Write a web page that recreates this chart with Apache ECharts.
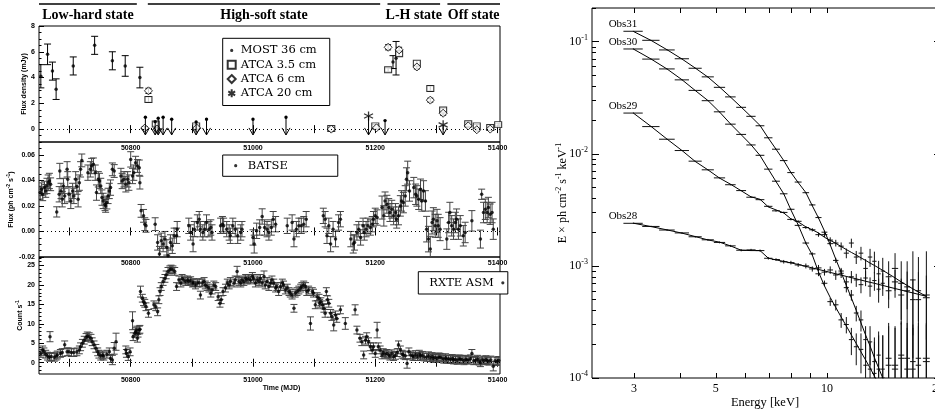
<!DOCTYPE html>
<html>
<head>
<meta charset="utf-8">
<title>Light curves and spectra</title>
<script src="https://cdn.jsdelivr.net/npm/echarts@6.0.0/dist/echarts.min.js"></script>
<style>
  html, body { margin: 0; padding: 0; background: #fff; }
  #chart { width: 935px; height: 411px; }
</style>
</head>
<body>
<div id="chart"></div>
<script>
// ---------- time axis (MJD) ----------
const mjdMin = 50650;
const mjdMax = 51404;
const mjdTicks = [50700, 50800, 50900, 51000, 51100, 51200, 51300, 51400];
const mjdLabels = [50800, 51000, 51200, 51400];

// states marked above the top panel
const stateNames = ['Low-hard state', 'High-soft state', 'L-H state', 'Off state'];
const stateStart = [50650, 50828, 51220, 51318];
const stateEnd = [50810, 51208, 51306, 51404];

// ---------- radio panel: [MJD, mJy, error] ----------
const radioTicks = [0, 2, 4, 6, 8];
const mostObs = [
  [50653, 4.1, 0.9], [50664, 5.8, 0.8], [50672, 4.5, 0.7], [50678, 3.1, 0.8], [50706, 4.9, 0.7],
  [50741, 6.5, 0.7], [50770, 5.3, 0.7], [50791, 4.9, 0.8], [50815, 4.0, 0.8], [51229, 5.2, 0.5],
  [51234, 5.5, 1.3]
];
const mostLimits = [
  [50824, 0.92], [50840, 0.58], [50845, 0.85], [50853, 0.92], [50867, 0.77],
  [50907, 0.55], [50924, 0.77], [51000, 0.77], [51054, 0.92], [51216, 0.66]
];
const atca35Obs = [
  [50829, 2.3, 0.2], [50841, 0.4, 0.15], [50907, 0.25, 0.12], [51128, 0.05, 0.12], [51200, 0.25, 0.12],
  [51221, 4.6, 0.15], [51239, 5.85, 0.2], [51268, 5.12, 0.2], [51290, 3.15, 0.2], [51311, 1.48, 0.15],
  [51352, 0.41, 0.12], [51366, 0.25, 0.12], [51388, 0.12, 0.12], [51401, 0.35, 0.12]
];
const atca6Obs = [
  [50823, 0.08, 0.12], [50829, 2.97, 0.2], [50843, 0.0, 0.12], [50908, 0.08, 0.12], [51128, 0.0, 0.12],
  [51202, 0.1, 0.12], [51221, 6.35, 0.2], [51239, 6.15, 0.2], [51268, 4.82, 0.15], [51290, 2.25, 0.15],
  [51311, 1.23, 0.15], [51352, 0.25, 0.1], [51366, -0.05, 0.1], [51388, 0.0, 0.1]
];
const atca20Limits = [[51189, 1.02], [51311, 0.33]];
const limitFloor = -0.45;

// ---------- BATSE panel: [MJD, ph cm^-2 s^-1, error] ----------
const batseTicks = [-0.02, 0, 0.02, 0.04, 0.06];
const batseObs = [
  [50652, 0.0304, 0.005], [50654, 0.0330, 0.005], [50656, 0.0291, 0.005], [50659, 0.0343, 0.005], [50661, 0.0317, 0.005],
  [50663, 0.0356, 0.006], [50665, 0.0382, 0.006], [50667, 0.0395, 0.006], [50669, 0.0369, 0.005], [50679, 0.0153, 0.004],
  [50683, 0.0291, 0.006], [50684, 0.0473, 0.006], [50686, 0.0317, 0.006], [50688, 0.0252, 0.006], [50690, 0.0356, 0.006],
  [50692, 0.0278, 0.006], [50696, 0.0486, 0.006], [50697, 0.0408, 0.006], [50699, 0.0291, 0.006], [50702, 0.0239, 0.006],
  [50705, 0.0317, 0.006], [50707, 0.0278, 0.006], [50710, 0.0408, 0.006], [50712, 0.0351, 0.006], [50714, 0.0252, 0.006],
  [50716, 0.0382, 0.006], [50718, 0.0486, 0.006], [50720, 0.0556, 0.005], [50730, 0.0460, 0.006], [50734, 0.0486, 0.006],
  [50736, 0.0512, 0.006], [50739, 0.0525, 0.005], [50742, 0.0460, 0.006], [50744, 0.0304, 0.006], [50747, 0.0408, 0.006],
  [50749, 0.0395, 0.006], [50751, 0.0356, 0.006], [50753, 0.0265, 0.006], [50755, 0.0239, 0.006], [50758, 0.0213, 0.005],
  [50759, 0.0200, 0.005], [50761, 0.0226, 0.005], [50763, 0.0278, 0.006], [50765, 0.0317, 0.006], [50767, 0.0343, 0.006],
  [50770, 0.0486, 0.005], [50773, 0.0473, 0.005], [50784, 0.0434, 0.006], [50786, 0.0395, 0.006], [50789, 0.0408, 0.006],
  [50792, 0.0369, 0.006], [50795, 0.0408, 0.006], [50797, 0.0382, 0.006], [50800, 0.0564, 0.006], [50803, 0.0434, 0.006],
  [50805, 0.0460, 0.006], [50808, 0.0538, 0.005], [50811, 0.0512, 0.005], [50814, 0.0499, 0.006], [50815, 0.0382, 0.005],
  [50817, 0.0161, 0.005], [50821, 0.0122, 0.005], [50823, 0.0057, 0.005], [50825, 0.0044, 0.005], [50840, 0.0057, 0.005],
  [50844, -0.0086, 0.006], [50847, -0.0177, 0.006], [50850, -0.0073, 0.006], [50853, -0.0099, 0.006], [50856, -0.0060, 0.006],
  [50859, -0.0125, 0.006], [50861, -0.0190, 0.006], [50865, -0.0086, 0.006], [50868, -0.0112, 0.006], [50871, -0.0034, 0.006],
  [50875, -0.0034, 0.006], [50876, 0.0018, 0.006], [50895, 0.0044, 0.006], [50898, -0.0008, 0.006], [50902, -0.0099, 0.006],
  [50904, 0.0018, 0.006], [50909, 0.0070, 0.006], [50912, 0.0096, 0.006], [50914, 0.0018, 0.006], [50918, -0.0008, 0.006],
  [50921, 0.0018, 0.006], [50924, 0.0070, 0.006], [50928, 0.0018, 0.006], [50931, 0.0031, 0.006], [50933, -0.0008, 0.006],
  [50947, 0.0044, 0.006], [50950, 0.0057, 0.006], [50952, 0.0044, 0.006], [50957, 0.0018, 0.006], [50961, -0.0008, 0.006],
  [50963, -0.0034, 0.006], [50967, 0.0044, 0.006], [50971, 0.0018, 0.006], [50975, -0.0034, 0.006], [50980, -0.0008, 0.006],
  [50982, 0.0018, 0.006], [51000, -0.0047, 0.006], [51002, -0.0099, 0.007], [51006, 0.0005, 0.006], [51011, 0.0031, 0.006],
  [51015, 0.0117, 0.006], [51019, 0.0031, 0.006], [51023, 0.0018, 0.006], [51026, -0.0008, 0.006], [51030, 0.0031, 0.006],
  [51033, 0.0096, 0.006], [51037, 0.0057, 0.006], [51056, 0.0044, 0.006], [51064, 0.0070, 0.006], [51067, -0.0060, 0.006],
  [51071, 0.0018, 0.006], [51075, 0.0044, 0.006], [51079, 0.0044, 0.006], [51083, 0.0057, 0.006], [51087, 0.0096, 0.006],
  [51115, 0.0122, 0.006], [51118, 0.0096, 0.006], [51121, -0.0034, 0.006], [51124, 0.0044, 0.006], [51127, -0.0099, 0.006],
  [51131, 0.0018, 0.006], [51135, -0.0060, 0.006], [51140, 0.0070, 0.006], [51143, 0.0096, 0.006], [51160, -0.0060, 0.006],
  [51164, -0.0099, 0.007], [51166, -0.0086, 0.006], [51170, -0.0008, 0.006], [51173, 0.0018, 0.006], [51176, -0.0047, 0.006],
  [51180, 0.0044, 0.006], [51182, -0.0008, 0.006], [51185, 0.0018, 0.006], [51188, 0.0044, 0.006], [51192, 0.0031, 0.006],
  [51195, 0.0057, 0.006], [51197, 0.0096, 0.006], [51200, 0.0122, 0.006], [51203, 0.0109, 0.006], [51211, 0.0187, 0.009],
  [51214, 0.0122, 0.008], [51216, 0.0239, 0.007], [51219, 0.0213, 0.007], [51222, 0.0187, 0.007], [51224, 0.0148, 0.007],
  [51227, 0.0174, 0.007], [51230, 0.0122, 0.007], [51233, 0.0148, 0.007], [51235, 0.0096, 0.007], [51238, 0.0122, 0.007],
  [51241, 0.0200, 0.008], [51243, 0.0239, 0.008], [51246, 0.0226, 0.008], [51249, 0.0278, 0.008], [51251, 0.0408, 0.009],
  [51253, 0.0460, 0.009], [51256, 0.0317, 0.008], [51263, 0.0343, 0.008], [51266, 0.0291, 0.008], [51268, 0.0278, 0.008],
  [51271, 0.0252, 0.008], [51274, 0.0330, 0.008], [51276, 0.0239, 0.008], [51279, 0.0317, 0.008], [51282, 0.0239, 0.008],
  [51284, 0.0018, 0.010], [51287, -0.0060, 0.010], [51290, -0.0138, 0.010], [51293, 0.0070, 0.009], [51295, 0.0096, 0.009],
  [51298, 0.0044, 0.009], [51301, 0.0083, 0.009], [51303, 0.0044, 0.009], [51306, 0.0018, 0.009], [51317, -0.0060, 0.008],
  [51320, 0.0070, 0.008], [51322, 0.0148, 0.008], [51325, 0.0044, 0.008], [51328, 0.0018, 0.008], [51331, 0.0070, 0.008],
  [51333, 0.0096, 0.008], [51336, 0.0018, 0.008], [51339, 0.0044, 0.008], [51344, -0.0034, 0.008], [51347, -0.0008, 0.008],
  [51358, 0.0083, 0.008], [51372, -0.0060, 0.007], [51374, 0.0291, 0.004], [51377, 0.0148, 0.008], [51380, 0.0174, 0.008],
  [51383, 0.0148, 0.008], [51385, 0.0187, 0.008], [51388, 0.0135, 0.008], [51391, 0.0148, 0.008], [51393, 0.0018, 0.008]
];

// ---------- RXTE ASM panel: [MJD, counts s^-1, error] ----------
const asmTicks = [0, 5, 10, 15, 20, 25];
const asmObs = [
  [50653, 2.4, 1.0], [50656, 3.3, 1.0], [50658, 2.8, 1.0], [50661, 2.2, 1.0], [50664, 1.7, 1.0],
  [50667, 1.4, 1.0], [50668, 6.7, 1.3], [50670, 1.6, 1.0], [50675, 1.4, 1.0], [50678, 1.7, 1.0],
  [50680, 2.0, 1.0], [50685, 2.4, 1.0], [50688, 2.6, 1.0], [50692, 4.6, 1.0], [50696, 2.8, 1.0],
  [50699, 2.8, 1.0], [50703, 2.6, 1.0], [50707, 2.6, 1.0], [50712, 2.8, 1.0], [50716, 3.3, 1.0],
  [50718, 4.1, 1.0], [50721, 5.0, 1.0], [50724, 5.8, 1.0], [50727, 6.5, 1.0], [50729, 6.9, 1.0],
  [50732, 6.7, 1.0], [50735, 6.3, 1.0], [50737, 5.4, 1.0], [50740, 4.6, 1.0], [50743, 3.7, 1.0],
  [50746, 2.8, 1.0], [50748, 2.2, 1.0], [50751, 1.7, 1.0], [50754, 2.0, 1.0], [50756, 1.7, 1.0],
  [50761, 2.2, 1.0], [50765, 2.8, 1.0], [50767, 1.1, 1.0], [50770, 0.7, 1.2], [50773, 3.7, 1.5],
  [50776, 5.4, 2.2], [50792, 3.3, 1.0], [50793, 2.4, 1.0], [50796, 1.6, 1.0], [50799, 2.8, 1.0],
  [50803, 10.8, 2.3], [50804, 6.7, 1.0], [50807, 7.6, 1.0], [50808, 8.0, 1.0], [50810, 8.4, 1.0],
  [50811, 6.3, 1.0], [50812, 7.6, 1.0], [50814, 8.4, 1.0], [50815, 8.6, 1.0], [50816, 18.3, 1.4],
  [50819, 16.6, 1.0], [50821, 15.7, 1.0], [50823, 15.3, 1.0], [50825, 14.4, 1.0], [50829, 12.7, 1.0],
  [50838, 14.9, 1.0], [50841, 14.4, 1.0], [50844, 13.1, 1.0], [50846, 16.2, 1.0], [50848, 18.3, 1.0],
  [50850, 19.6, 1.0], [50853, 20.9, 1.0], [50856, 21.7, 1.0], [50858, 22.6, 1.0], [50861, 23.5, 1.0],
  [50864, 23.9, 1.0], [50866, 24.1, 1.0], [50869, 23.9, 1.0], [50872, 23.5, 1.0], [50875, 19.6, 1.0],
  [50879, 21.3, 1.0], [50882, 20.5, 1.0], [50884, 21.7, 1.0], [50887, 21.3, 1.0], [50890, 20.9, 1.0],
  [50893, 21.3, 1.0], [50895, 20.9, 1.0], [50898, 21.1, 1.0], [50901, 20.5, 1.0], [50903, 20.6, 1.0],
  [50906, 20.0, 1.0], [50909, 20.5, 1.0], [50912, 20.6, 1.0], [50914, 17.4, 1.0], [50917, 20.5, 1.0],
  [50920, 20.9, 1.0], [50922, 20.0, 1.0], [50925, 19.6, 1.0], [50928, 19.2, 1.0], [50931, 17.9, 1.0],
  [50933, 18.7, 1.0], [50936, 20.0, 1.0], [50939, 19.6, 1.0], [50943, 17.0, 1.0], [50946, 15.3, 1.0],
  [50948, 16.2, 1.0], [50951, 18.3, 1.0], [50955, 19.2, 1.0], [50958, 20.5, 1.0], [50961, 20.0, 1.0],
  [50963, 20.9, 1.0], [50969, 20.5, 1.0], [50971, 21.3, 1.0], [50974, 23.5, 1.3], [50977, 20.9, 1.0],
  [50980, 20.5, 1.0], [50982, 21.3, 1.0], [50985, 20.9, 1.0], [50988, 21.7, 1.0], [50990, 21.3, 1.0],
  [50993, 21.7, 1.0], [50996, 21.3, 1.0], [50999, 22.2, 1.0], [51001, 21.7, 1.0], [51004, 20.5, 1.0],
  [51007, 21.3, 1.0], [51010, 20.9, 1.0], [51012, 21.7, 1.0], [51015, 20.5, 1.0], [51018, 22.2, 1.4],
  [51020, 20.0, 1.0], [51023, 20.9, 1.0], [51026, 19.6, 1.0], [51029, 20.5, 1.0], [51031, 21.3, 1.0],
  [51034, 20.5, 1.0], [51037, 19.2, 1.0], [51039, 19.6, 1.0], [51042, 18.3, 1.0], [51045, 19.6, 1.0],
  [51048, 20.5, 1.0], [51050, 20.0, 1.0], [51053, 18.7, 1.0], [51056, 19.2, 1.0], [51059, 18.3, 1.0],
  [51061, 17.9, 1.0], [51064, 17.4, 1.0], [51067, 14.0, 1.0], [51069, 17.9, 1.0], [51072, 18.3, 1.0],
  [51075, 18.7, 1.0], [51078, 19.2, 1.0], [51080, 19.6, 1.0], [51083, 20.0, 1.0], [51086, 19.6, 1.0],
  [51088, 18.3, 1.0], [51091, 18.7, 1.0], [51094, 10.1, 1.7], [51097, 18.3, 1.0], [51099, 17.9, 1.0],
  [51102, 14.9, 1.0], [51105, 17.0, 1.0], [51108, 16.6, 1.0], [51109, 15.3, 1.0], [51111, 15.7, 1.0],
  [51114, 14.9, 1.0], [51116, 14.0, 1.0], [51118, 12.7, 1.0], [51120, 18.3, 1.0], [51122, 16.2, 1.0],
  [51124, 15.3, 1.0], [51127, 12.7, 1.0], [51129, 11.9, 1.0], [51132, 9.7, 1.5], [51135, 12.3, 1.0],
  [51137, 11.4, 1.0], [51143, 13.6, 1.0], [51151, 10.1, 1.5], [51167, 13.6, 1.3], [51170, 8.4, 1.0],
  [51175, 6.3, 1.0], [51178, 5.4, 1.0], [51181, 2.0, 1.0], [51184, 5.8, 1.0], [51186, 6.7, 1.0],
  [51189, 5.4, 1.0], [51192, 4.1, 1.0], [51195, 3.3, 1.0], [51197, 4.1, 1.0], [51200, 2.4, 1.0],
  [51203, 8.4, 2.0], [51205, 4.1, 1.0], [51208, 3.3, 1.0], [51211, 2.0, 1.0], [51213, 2.6, 1.0],
  [51216, 2.2, 1.0], [51219, 2.4, 1.0], [51222, 2.0, 1.0], [51224, 1.7, 1.0], [51227, 2.3, 1.0],
  [51230, 1.6, 1.0], [51233, 1.9, 1.0], [51236, 2.6, 1.0], [51238, 4.6, 1.0], [51241, 3.3, 1.0],
  [51244, 2.2, 1.0], [51246, 2.0, 1.0], [51249, 1.8, 1.0], [51252, -0.2, 1.2], [51255, 2.8, 1.0],
  [51258, 2.0, 1.0], [51261, 1.7, 1.0], [51263, 1.6, 1.0], [51266, 2.1, 1.0], [51269, 1.6, 1.0],
  [51272, 2.2, 1.0], [51274, 1.7, 1.0], [51277, 1.9, 1.0], [51280, 1.5, 1.0], [51284, 1.4, 1.0],
  [51287, 1.8, 1.0], [51290, 1.3, 1.0], [51293, 1.6, 1.0], [51295, 1.1, 1.0], [51298, 1.4, 1.0],
  [51301, 1.1, 1.0], [51304, 1.5, 1.0], [51306, 1.4, 1.0], [51309, 1.2, 1.0], [51312, 0.9, 1.0],
  [51315, 1.3, 1.0], [51317, 0.9, 1.0], [51320, 1.0, 1.0], [51323, 0.8, 1.0], [51326, 1.1, 1.0],
  [51328, 0.7, 1.0], [51331, 0.9, 1.0], [51334, 0.6, 1.0], [51337, 1.0, 1.0], [51339, 0.9, 1.0],
  [51342, 0.8, 1.0], [51345, 0.5, 1.0], [51348, 0.9, 1.0], [51350, 0.7, 1.0], [51353, 0.7, 1.0],
  [51356, 1.0, 1.0], [51358, 2.4, 1.0], [51361, 0.5, 1.0], [51364, 0.6, 1.0], [51367, 0.9, 1.0],
  [51370, 0.4, 1.0], [51372, 0.0, 1.0], [51375, 0.7, 1.0], [51378, 0.5, 1.0], [51381, 0.8, 1.0],
  [51383, 0.5, 1.0], [51386, 0.4, 1.0], [51389, 0.7, 1.0], [51393, -0.9, 1.2], [51396, 0.5, 1.0],
  [51399, 0.3, 1.0], [51402, 0.6, 1.0]
];

// ---------- spectra (keV, E x ph cm^-2 s^-1 keV^-1) ----------
const specEnergy = [2.99, 3.34, 3.69, 4.05, 4.40, 4.76, 5.12, 5.48, 5.86, 6.23, 6.59, 6.94, 7.28, 7.64, 7.99, 8.36, 8.77,
  9.13, 9.49, 9.85, 10.21, 10.57, 10.93, 11.29, 11.65, 12.01, 12.37, 12.73, 13.09, 13.45, 13.81, 14.17,
  14.70, 15.30, 15.90, 16.50, 17.10, 17.70, 18.60];
const specHalfWidth = [0.18, 0.18, 0.18, 0.18, 0.18, 0.18, 0.18, 0.18, 0.18, 0.18, 0.18, 0.18, 0.18, 0.18, 0.18, 0.18, 0.18,
  0.18, 0.18, 0.18, 0.18, 0.18, 0.18, 0.18, 0.18, 0.18, 0.18, 0.18, 0.18, 0.18, 0.18, 0.18,
  0.27, 0.30, 0.30, 0.30, 0.30, 0.30, 0.40];

const obs28Flux = [0.00240, 0.00225, 0.00209, 0.00197, 0.00182, 0.00171, 0.00162, 0.00151, 0.00138, 0.00139, 0.00137, 0.00117, 0.00114,
  0.00109, 0.00107, 0.00102, 0.00100, 0.00094, 0.00096, 0.00088, 0.00092, 0.00083, 0.00086, 0.00072, 0.00080, 0.00075,
  0.00068, 0.00078, 0.00066, 0.00074, 0.00062, 0.00070, 0.00060, 0.00072, 0.00055, 0.00065, 0.00050, 0.00060, 0.00052];
const obs28Err = [0.00003, 0.00003, 0.00003, 0.00003, 0.00003, 0.00003, 0.00003, 0.00003, 0.00003, 0.00003, 0.00003, 0.00003, 0.00003,
  0.00004, 0.00004, 0.00004, 0.00005, 0.00005, 0.00006, 0.00006, 0.00007, 0.00008, 0.00008, 0.00009, 0.0001, 0.0001,
  0.00011, 0.00012, 0.00013, 0.00014, 0.00015, 0.00016, 0.00018, 0.0002, 0.00022, 0.00024, 0.00026, 0.00028, 0.0003];
const obs28Model = [0.002405, 0.002244, 0.002095, 0.00196, 0.001827, 0.001706, 0.001629, 0.001509, 0.00138, 0.00137, 0.00137, 0.001172,
  0.001132, 0.001097, 0.001064, 0.001031, 0.00099, 0.00096, 0.00093, 0.000903, 0.000875, 0.00085, 0.000828, 0.000806, 0.000786,
  0.000767, 0.000748, 0.00073, 0.000714, 0.0007, 0.000684, 0.00067, 0.000649, 0.000628, 0.000609, 0.00059, 0.000574, 0.000558, 0.000535];

const obs29Flux = [0.0231, 0.0175, 0.0135, 0.0107, 0.0086, 0.0072, 0.0061, 0.0053, 0.0047, 0.0041, 0.0039, 0.0034, 0.0031,
  0.0030, 0.0026, 0.0025, 0.0022, 0.0021, 0.0019, 0.0019, 0.0017, 0.0016, 0.0015, 0.0013, 0.0016, 0.0012,
  0.0013, 0.00095, 0.0012, 0.0011, 0.00085, 0.0009, 0.0008, 0.00095, 0.0007, 0.0006, 0.00075, 0.0005, 0.00055];
const obs29Err = [0.0002, 0.00015, 0.00012, 0.0001, 0.00008, 0.00007, 0.00006, 0.00006, 0.00005, 0.00005, 0.00005, 0.00005, 0.00005,
  0.00005, 0.00005, 0.00005, 0.00006, 0.00007, 0.00008, 0.00009, 0.0001, 0.00011, 0.00012, 0.00013, 0.00015, 0.00016,
  0.00018, 0.0002, 0.00022, 0.00024, 0.00026, 0.00028, 0.0003, 0.00035, 0.0004, 0.0005, 0.0006, 0.0007, 0.0008];
const obs29Model = [0.0231, 0.01754, 0.01352, 0.0107, 0.00854, 0.0072, 0.00607, 0.00536, 0.00468, 0.00413, 0.00393, 0.00336, 0.00316,
  0.00297, 0.00263, 0.00247, 0.00223, 0.0021, 0.00197, 0.0018, 0.00169, 0.00159, 0.00149, 0.0014, 0.00132, 0.00125,
  0.00118, 0.00112, 0.00106, 0.00101, 0.00096, 0.000912, 0.000849, 0.000782, 0.00072, 0.00067, 0.000624, 0.000586, 0.000535];

const obs30Flux = [0.0862, 0.0700, 0.0572, 0.0457, 0.0368, 0.0298, 0.0237, 0.0184, 0.0149, 0.0120, 0.0097, 0.0073, 0.0057,
  0.0044, 0.0032, 0.0023, 0.0016, 0.00128, 0.00085, 0.00070, 0.00048, 0.00045, 0.00033, 0.00030, 0.00022, 0.00019,
  0.00018, 0.00013, 0.00012, 0.00011, 0.00012, 0.00010, 0.00013, 0.00012, 0.00015, 0.00012, 0.00014, 0.00013, 0.00015];
const obs30Err = [0.0008, 0.0006, 0.0005, 0.0004, 0.0003, 0.00025, 0.0002, 0.00015, 0.00012, 0.0001, 0.00008, 0.00007, 0.00006,
  0.00005, 0.00004, 0.00004, 0.00004, 0.00004, 0.00004, 0.00004, 0.00004, 0.00005, 0.00005, 0.00005, 0.00006, 0.00006,
  0.00007, 0.00008, 0.00009, 0.0001, 0.00012, 0.00014, 0.00016, 0.00016, 0.00016, 0.00016, 0.00016, 0.00016, 0.00016];
const obs30Model = [0.0861, 0.0701, 0.0571, 0.0458, 0.0367, 0.0299, 0.0236, 0.0185, 0.0148, 0.01205, 0.00966, 0.0073, 0.00566,
  0.0044, 0.00316, 0.00232, 0.0016, 0.00125, 0.000884, 0.000663, 0.000523, 0.000426, 0.00035, 0.000291, 0.000242,
  0.000203, 0.000171, 0.000145, 0.000123, 0.000104, 0.000088];

const obs31Flux = [0.124, 0.103, 0.0845, 0.0705, 0.058, 0.0486, 0.0392, 0.0322, 0.026, 0.0216, 0.0178, 0.0139, 0.0110,
  0.0087, 0.0068, 0.0056, 0.0045, 0.0035, 0.0027, 0.0020, 0.00158, 0.00112, 0.00090, 0.00064, 0.00055, 0.00038,
  0.00033, 0.00022, 0.00021, 0.00014, 0.00016, 0.00012, 0.00015, 0.00013, 0.00016, 0.00015, 0.00012, 0.00015, 0.00014];
const obs31Err = [0.001, 0.0008, 0.0007, 0.0006, 0.0005, 0.0004, 0.0003, 0.0003, 0.0002, 0.0002, 0.00015, 0.00012, 0.0001,
  0.00008, 0.00007, 0.00006, 0.00006, 0.00006, 0.00006, 0.00006, 0.00006, 0.00006, 0.00006, 0.00006, 0.00006, 0.00006,
  0.00007, 0.00007, 0.00008, 0.00009, 0.0001, 0.00012, 0.00016, 0.00016, 0.00016, 0.00016, 0.00016, 0.00016, 0.00016];
const obs31Model = [0.1236, 0.1027, 0.0848, 0.0701, 0.0582, 0.0484, 0.0394, 0.0321, 0.0261, 0.0215, 0.0179, 0.0138, 0.0110,
  0.00871, 0.00681, 0.00554, 0.00451, 0.00344, 0.00268, 0.00205, 0.00154, 0.00115, 0.000875, 0.00067, 0.000518,
  0.000401, 0.00031, 0.000242, 0.000193, 0.000152, 0.000123, 0.0001, 0.000072];

const energyMin = 2.31;
const energyMax = 20;
const energyLabels = [3, 5, 10, 20];
const energyTicks = [3, 4, 5, 6, 7, 8, 9, 10, 20];
const fluxMin = 1e-4;
const fluxMax = 0.2;
const fluxDecades = [1e-4, 1e-3, 1e-2, 1e-1];

// ---------- helpers ----------
const serif = "'Liberation Serif', 'Times New Roman', serif";
const legendFont = "'DejaVu Serif', serif";
const tickFont = "'Liberation Sans', Arial, sans-serif";
const lg = Math.log10;

function steps(a, b, s) {
  const out = [];
  for (let v = a; v <= b + 1e-9; v += s) out.push(Math.round(v * 10000) / 10000);
  return out;
}

const fluxMinor = [];
fluxDecades.forEach(d => {
  for (let k = 2; k <= 9; k++) if (k * d <= fluxMax) fluxMinor.push(lg(k * d));
});

// small dot icons: the tiny corner segments keep the icon box larger than the dot
const dotIcon8 = 'path://M0,0L0.01,0L0,0.01ZM8,8L7.99,8L8,7.99ZM2.4,4a1.6,1.6 0 1,0 3.2,0a1.6,1.6 0 1,0 -3.2,0Z';
const dotIcon14 = 'path://M0,0L0.01,0L0,0.01ZM14,8L13.99,8L14,7.99ZM5.4,4a1.6,1.6 0 1,0 3.2,0a1.6,1.6 0 1,0 -3.2,0Z';
const starPath = 'path://M5,0L5,10M0.7,2.5L9.3,7.5M0.7,7.5L9.3,2.5';

const tickLine = { color: '#000', width: 1 };
const tickLabel = { color: '#000', fontFamily: tickFont, fontWeight: 'bold', fontSize: 7 };

function mjdAxis(gridIndex, position, labels, extra) {
  return Object.assign({
    type: 'value', gridIndex, position, min: mjdMin, max: mjdMax,
    axisLine: { show: false }, splitLine: { show: false },
    axisTick: { show: true, inside: true, length: 4, customValues: mjdTicks, lineStyle: tickLine },
    axisLabel: labels
      ? Object.assign({ show: true, customValues: mjdLabels, margin: 3, formatter: v => String(Math.round(v)) }, tickLabel)
      : { show: false }
  }, extra || {});
}

function leftAxis(gridIndex, min, max, labels, ticks, len, fmt, extra) {
  return Object.assign({
    type: 'value', gridIndex, position: 'left', min, max,
    axisLine: { show: false }, splitLine: { show: false },
    axisTick: { show: true, inside: true, length: len, customValues: ticks, lineStyle: tickLine },
    axisLabel: labels
      ? Object.assign({ show: true, customValues: labels, margin: 4, formatter: fmt }, tickLabel)
      : { show: false }
  }, extra || {});
}

function errorBars(xi, yi, rows, cap, color) {
  return {
    type: 'custom', xAxisIndex: xi, yAxisIndex: yi, silent: true, z: 2, clip: true,
    data: rows.map(r => [r[0], r[1], r[2]]),
    encode: { x: 0, y: 1 },
    renderItem: (params, api) => {
      const x = api.value(0), y = api.value(1), e = api.value(2);
      const hi = api.coord([x, y + e]);
      const lo = api.coord([x, y - e]);
      const s = { stroke: color, lineWidth: 1 };
      return {
        type: 'group', children: [
          { type: 'line', shape: { x1: hi[0], y1: hi[1], x2: lo[0], y2: lo[1] }, style: s },
          { type: 'line', shape: { x1: hi[0] - cap, y1: hi[1], x2: hi[0] + cap, y2: hi[1] }, style: s },
          { type: 'line', shape: { x1: lo[0] - cap, y1: lo[1], x2: lo[0] + cap, y2: lo[1] }, style: s }
        ]
      };
    }
  };
}

function limitArrows(rows, withDot) {
  return {
    type: 'custom', xAxisIndex: 0, yAxisIndex: 0, silent: true, z: 4, clip: false,
    data: rows,
    encode: { x: 0, y: 1 },
    renderItem: (params, api) => {
      const p = api.coord([api.value(0), api.value(1)]);
      const tip = api.coord([api.value(0), limitFloor])[1];
      const s = { stroke: '#000', lineWidth: 1, fill: null };
      const kids = [
        { type: 'line', shape: { x1: p[0], y1: p[1], x2: p[0], y2: tip }, style: s },
        { type: 'polyline', shape: { points: [[p[0] - 4, tip - 7], [p[0], tip], [p[0] + 4, tip - 7]] }, style: s }
      ];
      if (withDot) kids.push({ type: 'circle', shape: { cx: p[0], cy: p[1], r: 1.7 }, style: { fill: '#000' } });
      return { type: 'group', children: kids };
    }
  };
}

function scatter(name, xi, yi, rows, symbol, size, itemStyle, extra) {
  return Object.assign({
    type: 'scatter', name, xAxisIndex: xi, yAxisIndex: yi, z: 3, silent: true,
    data: rows.map(r => [r[0], r[1]]),
    symbol, symbolSize: size, itemStyle
  }, extra || {});
}

const zeroLine = {
  silent: true, symbol: ['none', 'none'], animation: false,
  label: { show: false },
  lineStyle: { color: '#000', type: [1, 3], width: 1 },
  data: [{ yAxis: 0 }]
};

function specCrosses(flux, err) {
  const rows = specEnergy.map((e, i) => [
    lg(e), lg(flux[i]),
    lg(e - specHalfWidth[i]), lg(e + specHalfWidth[i]),
    lg(Math.max(flux[i] - err[i], 1e-6)), lg(flux[i] + err[i])
  ]);
  return {
    type: 'custom', xAxisIndex: 6, yAxisIndex: 6, silent: true, z: 2, clip: true,
    data: rows,
    encode: { x: 0, y: 1 },
    renderItem: (params, api) => {
      const l = api.coord([api.value(2), api.value(1)]);
      const r = api.coord([api.value(3), api.value(1)]);
      const lo = api.coord([api.value(0), api.value(4)]);
      const hi = api.coord([api.value(0), api.value(5)]);
      const s = { stroke: '#111', lineWidth: 1 };
      return {
        type: 'group', children: [
          { type: 'line', shape: { x1: l[0], y1: l[1], x2: r[0], y2: r[1] }, style: s },
          { type: 'line', shape: { x1: lo[0], y1: lo[1], x2: hi[0], y2: hi[1] }, style: s }
        ]
      };
    }
  };
}

function modelLine(name, model) {
  const data = model.map((m, i) => [lg(specEnergy[i]), lg(m)]);
  data[0] = {
    value: data[0],
    label: {
      show: true, formatter: name, position: 'left', distance: 0, offset: [4, -7],
      fontFamily: serif, fontSize: 11, color: '#000'
    }
  };
  return {
    type: 'line', name, xAxisIndex: 6, yAxisIndex: 6, z: 3, silent: true,
    data, symbol: 'circle', symbolSize: 0, showSymbol: true,
    lineStyle: { color: '#000', width: 1 }, itemStyle: { color: '#000' },
    label: { show: false }, clip: true
  };
}

const gridBase = { show: true, borderColor: '#000', borderWidth: 1, backgroundColor: 'transparent', containLabel: false, outerBoundsMode: 'none' };
const nameStyle = { color: '#000', fontFamily: tickFont, fontWeight: 'bold', fontSize: 7 };
const supStyle = { fontSize: 5, fontFamily: tickFont, fontWeight: 'bold', verticalAlign: 'top' };
const legendText = { fontFamily: legendFont, fontSize: 11.5, color: '#000', lineHeight: 14.3 };

const option = {
  animation: false,
  backgroundColor: '#fff',
  grid: [
    Object.assign({ left: 39, right: 435, top: 26, height: 116 }, gridBase),
    Object.assign({ left: 39, right: 435, top: 142, height: 115 }, gridBase),
    Object.assign({ left: 39, right: 435, top: 257, height: 117 }, gridBase),
    Object.assign({ left: 592, right: -3, top: 8, height: 370 }, gridBase)
  ],
  legend: [
    {
      selectedMode: false, orient: 'vertical', left: 222.7, top: 38.3,
      padding: [5, 13, 5, 4], itemGap: 0, itemWidth: 8, itemHeight: 8,
      borderColor: '#000', borderWidth: 1, borderRadius: 0, backgroundColor: '#fff',
      textStyle: legendText,
      data: [{ name: 'MOST 36 cm', icon: dotIcon8 }, 'ATCA 3.5 cm', 'ATCA 6 cm', 'ATCA 20 cm']
    },
    {
      selectedMode: false, orient: 'vertical', left: 222.7, top: 155,
      padding: [3.5, 50, 3.5, 6], itemGap: 0, itemWidth: 14, itemHeight: 8,
      borderColor: '#000', borderWidth: 1, borderRadius: 0, backgroundColor: '#fff',
      textStyle: legendText,
      data: [{ name: 'BATSE', icon: dotIcon14 }]
    },
    {
      selectedMode: false, orient: 'vertical', left: 418.3, top: 271.7, align: 'right',
      padding: [4, 1, 4, 11], itemGap: 0, itemWidth: 8, itemHeight: 8,
      borderColor: '#000', borderWidth: 1, borderRadius: 0, backgroundColor: '#fff',
      textStyle: legendText,
      data: [{ name: 'RXTE ASM', icon: dotIcon8 }]
    }
  ],
  xAxis: [
    mjdAxis(0, 'bottom', true),
    mjdAxis(0, 'top', false),
    mjdAxis(1, 'bottom', true),
    mjdAxis(1, 'top', false),
    mjdAxis(2, 'bottom', true, {
      name: 'Time (MJD)', nameLocation: 'middle', nameGap: 11, nameMoveOverlap: false,
      nameTextStyle: Object.assign({ padding: [0, 0, 0, 24] }, nameStyle)
    }),
    mjdAxis(2, 'top', false),
    {
      type: 'value', gridIndex: 3, position: 'bottom', min: lg(energyMin), max: lg(energyMax),
      axisLine: { show: false }, splitLine: { show: false },
      axisTick: { show: true, inside: true, length: 5, customValues: energyTicks.map(lg), lineStyle: tickLine },
      axisLabel: {
        show: true, customValues: energyLabels.map(lg), margin: 5,
        formatter: v => String(Math.round(Math.pow(10, v))),
        color: '#000', fontFamily: serif, fontSize: 12
      },
      name: 'Energy [keV]', nameLocation: 'middle', nameGap: 18, nameMoveOverlap: false,
      nameTextStyle: { color: '#000', fontFamily: serif, fontSize: 12.5 }
    },
    {
      type: 'value', gridIndex: 3, position: 'top', min: lg(energyMin), max: lg(energyMax),
      axisLine: { show: false }, splitLine: { show: false },
      axisTick: { show: true, inside: true, length: 5, customValues: energyTicks.map(lg), lineStyle: tickLine },
      axisLabel: { show: false }
    }
  ],
  yAxis: [
    leftAxis(0, -1, 8, radioTicks, radioTicks, 5, v => String(Math.round(v)), {
      name: 'Flux density (mJy)', nameLocation: 'middle', nameGap: 11, nameMoveOverlap: false,
      nameTextStyle: nameStyle
    }),
    leftAxis(0, -1, 8, null, steps(-1, 8, 0.5), 2.5),
    leftAxis(1, -0.02, 0.07, batseTicks, batseTicks, 5, v => v.toFixed(2), {
      name: 'Flux (ph cm{sup|-2} s{sup|-1})', nameLocation: 'middle', nameGap: 23, nameMoveOverlap: false,
      nameTextStyle: Object.assign({ lineHeight: 10, rich: { sup: supStyle } }, nameStyle)
    }),
    leftAxis(1, -0.02, 0.07, null, steps(-0.02, 0.07, 0.005), 2.5),
    leftAxis(2, -2.9, 27.2, asmTicks, asmTicks, 5, v => String(Math.round(v)), {
      name: 'Count s{sup|-1}', nameLocation: 'middle', nameGap: 14, nameMoveOverlap: false,
      nameTextStyle: Object.assign({ lineHeight: 10, rich: { sup: supStyle } }, nameStyle)
    }),
    leftAxis(2, -2.9, 27.2, null, steps(-2, 27, 1), 2.5),
    {
      type: 'value', gridIndex: 3, position: 'left', min: lg(fluxMin), max: lg(fluxMax),
      axisLine: { show: false }, splitLine: { show: false },
      axisTick: { show: true, inside: true, length: 7, customValues: fluxDecades.map(lg), lineStyle: tickLine },
      axisLabel: {
        show: true, customValues: fluxDecades.map(lg), margin: 4,
        formatter: v => '10{sup|' + Math.round(v) + '}',
        color: '#000', fontFamily: serif, fontSize: 12, lineHeight: 16,
        rich: { sup: { fontSize: 8, fontFamily: serif, verticalAlign: 'top', color: '#000' } }
      },
      name: 'E \u00d7 ph cm{sup|-2} s{sup|-1} keV{sup|-1}', nameLocation: 'middle', nameGap: 21,
      nameMoveOverlap: false,
      nameTextStyle: {
        color: '#000', fontFamily: serif, fontSize: 12, lineHeight: 16,
        rich: { sup: { fontSize: 8, fontFamily: serif, verticalAlign: 'top', color: '#000' } }
      }
    },
    {
      type: 'value', gridIndex: 3, position: 'left', min: lg(fluxMin), max: lg(fluxMax),
      axisLine: { show: false }, splitLine: { show: false },
      axisTick: { show: true, inside: true, length: 4, customValues: fluxMinor, lineStyle: tickLine },
      axisLabel: { show: false }
    },
    {
      type: 'value', gridIndex: 3, position: 'right', min: lg(fluxMin), max: lg(fluxMax),
      axisLine: { show: false }, splitLine: { show: false },
      axisTick: { show: true, inside: true, length: 4, customValues: fluxDecades.map(lg), lineStyle: tickLine },
      axisLabel: { show: false }
    }
  ],
  series: [
    // state bars above the radio panel
    {
      type: 'custom', xAxisIndex: 0, yAxisIndex: 0, silent: true, clip: false,
      data: stateNames.map((n, i) => [stateStart[i], stateEnd[i]]),
      encode: { x: [0, 1] },
      renderItem: (params, api) => {
        const a = api.coord([api.value(0), 0])[0];
        const b = api.coord([api.value(1), 0])[0];
        const top = params.coordSys.y;
        return {
          type: 'group', children: [
            { type: 'line', shape: { x1: a, y1: top - 22, x2: b, y2: top - 22 }, style: { stroke: '#000', lineWidth: 1.3 } },
            {
              type: 'text', x: (a + b) / 2, y: top - 11,
              style: {
                text: stateNames[params.dataIndex], fill: '#000', align: 'center', verticalAlign: 'middle',
                font: 'bold 14px ' + serif
              }
            }
          ]
        };
      }
    },
    // radio
    errorBars(0, 0, mostObs, 3.5, '#000'),
    errorBars(0, 0, atca35Obs, 3, '#000'),
    errorBars(0, 0, atca6Obs, 3, '#000'),
    scatter('MOST 36 cm', 0, 0, mostObs, 'circle', 3.5, { color: '#000' }, { markLine: zeroLine }),
    limitArrows(mostLimits, true),
    scatter('ATCA 3.5 cm', 0, 0, atca35Obs, 'rect', [7, 6], { color: '#fff', borderColor: '#000', borderWidth: 1 }),
    scatter('ATCA 6 cm', 0, 0, atca6Obs, 'diamond', 8, { color: '#fff', borderColor: '#000', borderWidth: 1 }),
    scatter('ATCA 20 cm', 0, 0, atca20Limits, starPath, 9, { color: 'transparent', borderColor: '#000', borderWidth: 1.3 }),
    limitArrows(atca20Limits, false),
    // BATSE
    errorBars(2, 2, batseObs, 3.5, '#444'),
    scatter('BATSE', 2, 2, batseObs, 'circle', 3.5, { color: '#000' }, { markLine: zeroLine }),
    // ASM
    errorBars(4, 4, asmObs, 3.5, '#444'),
    scatter('RXTE ASM', 4, 4, asmObs, 'circle', 3.5, { color: '#000' }, { markLine: zeroLine }),
    // spectra
    specCrosses(obs28Flux, obs28Err),
    specCrosses(obs29Flux, obs29Err),
    specCrosses(obs30Flux, obs30Err),
    specCrosses(obs31Flux, obs31Err),
    modelLine('Obs28', obs28Model),
    modelLine('Obs29', obs29Model),
    modelLine('Obs30', obs30Model),
    modelLine('Obs31', obs31Model)
  ]
};

const chart = echarts.init(document.getElementById('chart'), null, { renderer: 'canvas' });
chart.setOption(option);
</script>
</body>
</html>
